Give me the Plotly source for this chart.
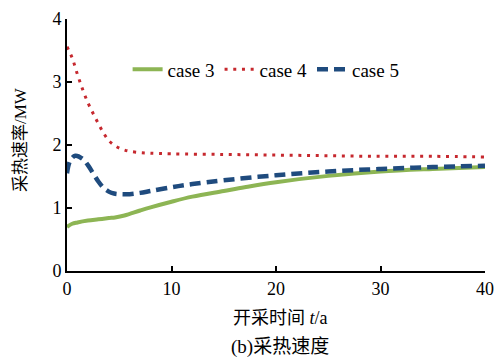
import plotly.graph_objects as go

# Data
t_case3 = [0, 0.5, 1, 2, 3, 4, 4.6, 5.5, 7, 8, 10, 12, 15, 17, 20, 25, 30, 35, 40]
v_case3 = [0.70, 0.75, 0.77, 0.80, 0.82, 0.84, 0.85, 0.88, 0.96, 1.01, 1.10, 1.18, 1.27, 1.33, 1.41, 1.51, 1.58, 1.62, 1.65]

t_case4 = [0, 0.5, 1, 1.5, 2, 2.5, 3, 3.5, 4, 4.5, 5, 5.5, 6, 7, 8, 10, 15, 20, 25, 30, 35, 40]
v_case4 = [3.56, 3.38, 3.12, 2.88, 2.67, 2.50, 2.34, 2.19, 2.07, 2.00, 1.95, 1.92, 1.90, 1.88, 1.87, 1.86, 1.85, 1.84, 1.83, 1.82, 1.82, 1.81]

t_case5 = [0, 0.3, 0.8, 1.5, 2, 2.5, 3, 3.5, 4, 4.5, 5, 6, 7, 8, 10, 12, 15, 20, 25, 30, 35, 40]
v_case5 = [1.55, 1.75, 1.83, 1.78, 1.68, 1.55, 1.42, 1.32, 1.26, 1.23, 1.22, 1.22, 1.24, 1.27, 1.33, 1.38, 1.44, 1.52, 1.58, 1.62, 1.65, 1.67]

x_ticks = [0, 10, 20, 30, 40]
y_ticks = [0, 1, 2, 3, 4]

MIXED = "Liberation Serif, Noto Sans CJK SC"

fig = go.Figure()
fig.add_trace(go.Scatter(x=t_case3, y=v_case3, mode="lines", name="case 3",
                         line=dict(color="#8DB554", width=4, shape="spline")))
fig.add_trace(go.Scatter(x=t_case4, y=v_case4, mode="lines", name="case 4",
                         line=dict(color="#C6282E", width=3, dash="3px,5.7px", shape="spline")))
fig.add_trace(go.Scatter(x=t_case5, y=v_case5, mode="lines", name="case 5",
                         line=dict(color="#1F4B7E", width=4.5, dash="11px,6px", shape="spline")))

fig.update_layout(
    width=501, height=357,
    margin=dict(l=67, r=7, t=19, b=86),
    paper_bgcolor="white", plot_bgcolor="white",
    font=dict(family=MIXED, size=18, color="black"),
    showlegend=True,
    legend=dict(orientation="h", x=0.145, y=0.80, xanchor="left", yanchor="middle",
                font=dict(family=MIXED, size=19, color="black"), bgcolor="rgba(0,0,0,0)",
                itemwidth=30, tracegroupgap=0),
    xaxis=dict(range=[0, 40], tickvals=x_ticks, showgrid=False, zeroline=False,
               showline=True, linecolor="black", linewidth=2,
               ticks="inside", ticklen=5, tickwidth=1.5, tickcolor="black",
               ticklabeloverflow="allow",
               tickfont=dict(family=MIXED, size=18, color="black")),
    yaxis=dict(range=[0, 4], tickvals=y_ticks, showgrid=False, zeroline=False,
               showline=True, linecolor="black", linewidth=2,
               ticks="inside", ticklen=5, tickwidth=1.5, tickcolor="black",
               ticklabeloverflow="allow",
               tickfont=dict(family=MIXED, size=18, color="black")),
    annotations=[
        dict(text="开采时间 <i>t</i>/a", xref="paper", yref="paper", x=0.51, y=-0.187,
             showarrow=False, font=dict(family=MIXED, size=18), xanchor="center", yanchor="middle"),
        dict(text="(b)采热速度", xref="paper", yref="paper", x=0.51, y=-0.30,
             showarrow=False, font=dict(family=MIXED, size=19), xanchor="center", yanchor="middle"),
        dict(text="采热速率/MW", xref="paper", yref="paper", x=-0.11, y=0.52, textangle=-90,
             showarrow=False, font=dict(family=MIXED, size=17), xanchor="center", yanchor="middle"),
    ],
)

fig.write_html("out.html", config={"displayModeBar": False},
               post_script="document.body.style.margin='0';")
